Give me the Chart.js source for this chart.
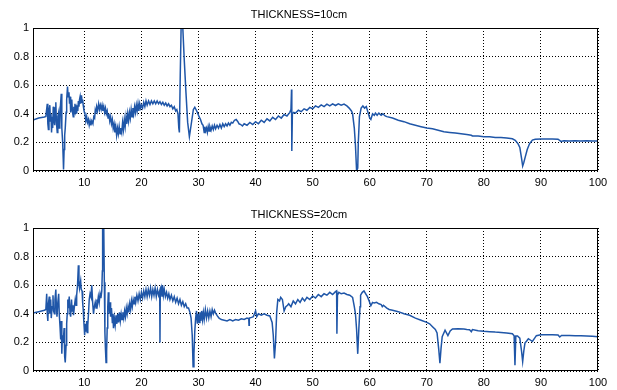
<!DOCTYPE html>
<html>
<head>
<meta charset="utf-8">
<script src="https://cdn.jsdelivr.net/npm/chart.js@4.4.0/dist/chart.umd.min.js"></script>
<style>
  body { margin: 0; background: #fff; }
  #wrap { position: relative; width: 617px; height: 390px; }
  canvas { position: absolute; left: 0; }
</style>
</head>
<body>
<div id="wrap">
  <canvas id="plotTop" width="617" height="195" style="top:0"></canvas>
  <canvas id="plotBottom" width="617" height="195" style="top:195px"></canvas>
</div>
<script>
const xTicks = [10, 20, 30, 40, 50, 60, 70, 80, 90, 100];
const yTicks = [0, 0.2, 0.4, 0.6, 0.8, 1];
const yTickLabels = ['0', '0.2', '0.4', '0.6', '0.8', '1'];
const titles = ['THICKNESS=10cm', 'THICKNESS=20cm'];

// [x, value]
const thick10 = [
  [1,0.357],[2,0.37],[3,0.378],[3.25,0.381],[3.5,0.47],[3.6,0.33],[3.7,0.29],[3.8,0.42],[3.95,0.46],[4.05,0.35],
  [4.15,0.40],[4.25,0.27],[4.35,0.38],[4.45,0.30],[4.55,0.45],[4.65,0.36],[4.8,0.32],[4.9,0.44],[5.0,0.48],[5.1,0.34],
  [5.25,0.27],[5.35,0.38],[5.5,0.41],[5.6,0.30],[5.7,0.32],[5.8,0.45],[5.95,0.54],[6.05,0.30],[6.2,0.20],[6.3,0.08],
  [6.35,0.01],[6.45,0.15],[6.55,0.25],[6.65,0.30],[6.8,0.41],[6.9,0.50],[7.05,0.59],[7.15,0.52],[7.3,0.55],[7.4,0.47],
  [7.5,0.52],[7.6,0.41],[7.7,0.46],[7.8,0.50],[7.9,0.42],[8.05,0.38],[8.15,0.45],[8.25,0.40],[8.35,0.47],[8.45,0.42],
  [8.55,0.44],[8.65,0.40],[8.75,0.46],[8.85,0.42],[8.95,0.49],[9.05,0.45],[9.15,0.50],[9.25,0.52],[9.35,0.47],[9.5,0.53],
  [9.6,0.48],[9.7,0.50],[9.8,0.46],[9.9,0.43],[10.0,0.41],[10.1,0.40],[10.25,0.35],[10.4,0.38],[10.55,0.34],[10.7,0.36],
  [10.85,0.32],[11.0,0.35],[11.15,0.32],[11.3,0.35],[11.5,0.33],[11.65,0.38],[11.8,0.37],[11.9,0.42],[12.0,0.40],[12.15,0.45],
  [12.3,0.42],[12.5,0.47],[12.65,0.43],[12.8,0.46],[12.95,0.43],[13.1,0.46],[13.25,0.42],[13.4,0.45],[13.55,0.41],[13.7,0.44],
  [13.85,0.40],[14.0,0.42],[14.15,0.37],[14.3,0.40],[14.45,0.35],[14.6,0.38],[14.75,0.33],[14.9,0.36],[15.05,0.30],[15.2,0.33],
  [15.35,0.27],[15.5,0.31],[15.65,0.25],[15.8,0.30],[15.95,0.26],[16.1,0.31],[16.25,0.26],[16.4,0.30],[16.55,0.27],[16.7,0.34],
  [16.85,0.29],[17.0,0.36],[17.15,0.31],[17.3,0.38],[17.45,0.33],[17.6,0.40],[17.75,0.35],[17.9,0.41],[18.05,0.37],[18.2,0.43],
  [18.35,0.38],[18.5,0.44],[18.65,0.40],[18.8,0.45],[18.95,0.41],[19.1,0.46],[19.25,0.42],[19.4,0.47],[19.55,0.42],[19.7,0.47],
  [19.85,0.44],[20.0,0.46],[20.2,0.44],[20.4,0.48],[20.6,0.45],[20.8,0.49],[21.0,0.46],[21.25,0.49],[21.5,0.465],[21.75,0.49],
  [22.0,0.47],[22.25,0.49],[22.5,0.47],[22.75,0.49],[23.0,0.47],[23.25,0.485],[23.5,0.465],[23.75,0.48],[24.0,0.46],[24.25,0.475],
  [24.5,0.455],[24.75,0.47],[25.0,0.45],[25.25,0.46],[25.5,0.435],[25.75,0.45],[26.0,0.42],[26.2,0.43],[26.4,0.40],[26.55,0.30],
  [26.65,0.27],[26.8,0.67],[26.95,1.0],[27.25,1.0],[27.5,0.78],[27.8,0.55],[28.1,0.34],[28.4,0.24],[28.7,0.32],[29.1,0.43],
  [29.35,0.446],[29.55,0.43],[29.8,0.41],[30.1,0.38],[30.35,0.36],[30.6,0.33],[30.8,0.32],[31.0,0.27],[31.1,0.31],[31.25,0.28],
  [31.4,0.30],[31.55,0.27],[31.7,0.31],[31.85,0.28],[32.0,0.31],[32.2,0.285],[32.4,0.315],[32.6,0.29],[32.8,0.32],[33.0,0.295],
  [33.25,0.32],[33.5,0.30],[33.75,0.325],[34.0,0.30],[34.25,0.33],[34.5,0.31],[34.75,0.33],[35.0,0.315],[35.25,0.335],[35.5,0.32],
  [35.75,0.34],[36.0,0.335],[36.3,0.355],[36.6,0.36],[36.9,0.345],[37.1,0.33],[37.4,0.325],[37.7,0.315],[38.0,0.33],[38.5,0.32],
  [39.0,0.34],[39.5,0.325],[40.0,0.345],[40.5,0.33],[41.0,0.355],[41.5,0.34],[42.0,0.365],[42.5,0.35],[43.0,0.375],[43.5,0.36],
  [44.0,0.385],[44.5,0.37],[45.0,0.395],[45.5,0.385],[46.0,0.41],[46.2,0.43],[46.3,0.57],[46.35,0.14],[46.45,0.40],[46.7,0.41],
  [47.0,0.405],[47.5,0.425],[48.0,0.415],[48.5,0.435],[49.0,0.425],[49.5,0.445],[50.0,0.435],[50.5,0.455],[51.0,0.445],[51.5,0.462],
  [52.0,0.45],[52.5,0.467],[53.0,0.455],[53.5,0.47],[54.0,0.458],[54.5,0.47],[55.0,0.46],[55.5,0.468],[56.0,0.455],[56.4,0.44],
  [56.8,0.42],[57.0,0.40],[57.3,0.30],[57.5,0.18],[57.7,0.0],[57.9,0.02],[58.0,0.20],[58.2,0.38],[58.5,0.44],[58.8,0.455],
  [59.1,0.44],[59.4,0.45],[59.7,0.41],[60.0,0.37],[60.2,0.36],[60.5,0.40],[60.8,0.39],[61.0,0.405],[61.3,0.39],[61.6,0.405],
  [62.0,0.39],[62.3,0.40],[62.7,0.385],[63.0,0.38],[64.0,0.37],[65.0,0.355],[66.0,0.345],[67.0,0.33],[68.0,0.32],[69.0,0.31],
  [70.0,0.30],[71.0,0.295],[72.0,0.285],[73.0,0.275],[74.0,0.27],[75.0,0.265],[76.0,0.26],[77.0,0.255],[77.8,0.25],[78.0,0.245],
  [79.0,0.245],[80.0,0.24],[81.0,0.24],[82.0,0.235],[83.0,0.235],[84.0,0.23],[85.0,0.225],[85.5,0.215],[86.0,0.19],[86.3,0.165],
  [86.6,0.09],[86.8,0.035],[87.0,0.06],[87.2,0.09],[87.6,0.15],[88.0,0.19],[88.5,0.216],[89.0,0.222],[90.0,0.223],[91.0,0.223],
  [92.0,0.224],[93.0,0.222],[93.5,0.207],[94.0,0.212],[95.0,0.21],[96.0,0.212],[97.0,0.21],[98.0,0.212],[99.0,0.21],[100,0.21]
];

// [x, value]
const thick20 = [
  [1,0.405],[2,0.415],[3,0.425],[3.25,0.43],[3.4,0.54],[3.5,0.40],[3.6,0.35],[3.7,0.47],[3.85,0.52],[3.95,0.40],
  [4.1,0.50],[4.2,0.37],[4.35,0.45],[4.5,0.53],[4.6,0.42],[4.75,0.40],[4.85,0.50],[5.0,0.57],[5.1,0.45],[5.2,0.38],
  [5.35,0.48],[5.5,0.54],[5.6,0.40],[5.75,0.30],[5.85,0.22],[5.95,0.35],[6.05,0.12],[6.15,0.25],[6.3,0.20],[6.45,0.30],
  [6.55,0.10],[6.65,0.06],[6.8,0.18],[6.9,0.33],[7.0,0.40],[7.1,0.50],[7.2,0.44],[7.35,0.52],[7.5,0.40],[7.6,0.38],
  [7.75,0.50],[7.85,0.42],[8.0,0.46],[8.1,0.39],[8.25,0.45],[8.4,0.50],[8.55,0.46],[8.65,0.53],[8.8,0.60],[8.95,0.74],
  [9.05,0.62],[9.15,0.58],[9.35,0.63],[9.45,0.57],[9.6,0.56],[9.7,0.48],[9.8,0.43],[9.9,0.35],[10.05,0.25],[10.15,0.33],
  [10.3,0.28],[10.4,0.35],[10.5,0.27],[10.6,0.32],[10.75,0.42],[10.85,0.50],[11.0,0.54],[11.15,0.52],[11.3,0.60],[11.45,0.48],
  [11.6,0.40],[11.75,0.45],[11.9,0.48],[12.05,0.44],[12.2,0.50],[12.3,0.47],[12.45,0.52],[12.6,0.48],[12.75,0.54],[12.9,0.51],
  [13.05,0.56],[13.15,0.70],[13.2,1.0],[13.4,1.0],[13.5,0.62],[13.6,0.27],[13.7,0.15],[13.8,0.06],[13.9,0.14],[14.0,0.30],
  [14.1,0.45],[14.2,0.55],[14.3,0.47],[14.4,0.40],[14.5,0.48],[14.6,0.38],[14.75,0.44],[14.9,0.34],[15.0,0.40],[15.1,0.30],
  [15.25,0.37],[15.4,0.32],[15.55,0.39],[15.7,0.33],[15.85,0.40],[16.0,0.34],[16.15,0.41],[16.3,0.35],[16.45,0.40],[16.6,0.36],
  [16.75,0.41],[16.9,0.37],[17.05,0.42],[17.2,0.38],[17.35,0.44],[17.5,0.40],[17.65,0.45],[17.8,0.41],[17.95,0.47],[18.1,0.43],
  [18.25,0.49],[18.4,0.45],[18.55,0.50],[18.7,0.47],[18.85,0.52],[19.0,0.48],[19.2,0.53],[19.4,0.49],[19.6,0.54],[19.8,0.50],
  [20.0,0.55],[20.2,0.51],[20.4,0.56],[20.6,0.52],[20.8,0.57],[21.0,0.52],[21.2,0.57],[21.4,0.53],[21.6,0.58],[21.8,0.52],
  [22.0,0.57],[22.2,0.53],[22.4,0.58],[22.6,0.52],[22.8,0.57],[23.0,0.53],[23.2,0.56],[23.25,0.20],[23.3,0.55],[23.45,0.58],
  [23.6,0.52],[23.7,0.60],[23.85,0.53],[24.0,0.57],[24.2,0.52],[24.4,0.55],[24.6,0.51],[24.8,0.54],[25.0,0.50],[25.25,0.53],
  [25.5,0.49],[25.75,0.52],[26.0,0.48],[26.25,0.51],[26.5,0.47],[26.75,0.50],[27.0,0.46],[27.25,0.485],[27.5,0.45],[27.75,0.47],
  [28.0,0.44],[28.25,0.44],[28.5,0.41],[28.7,0.37],[28.9,0.25],[29.05,0.03],[29.2,0.12],[29.35,0.28],[29.5,0.37],[29.65,0.42],
  [29.8,0.33],[29.95,0.40],[30.1,0.34],[30.25,0.41],[30.4,0.35],[30.55,0.42],[30.7,0.36],[30.85,0.41],[31.0,0.36],[31.2,0.43],
  [31.4,0.37],[31.6,0.42],[31.8,0.37],[32.0,0.42],[32.2,0.38],[32.4,0.43],[32.6,0.40],[32.8,0.425],[33.0,0.405],[33.3,0.385],
  [33.6,0.37],[34.0,0.36],[34.5,0.355],[35.0,0.35],[35.5,0.36],[36.0,0.35],[36.5,0.36],[37.0,0.355],[37.5,0.365],[38.0,0.36],
  [38.5,0.37],[38.8,0.365],[38.85,0.32],[38.9,0.37],[39.3,0.375],[39.6,0.38],[40.0,0.42],[40.2,0.38],[40.5,0.40],[41.0,0.39],
  [41.5,0.40],[42.0,0.39],[42.5,0.385],[42.9,0.34],[43.1,0.25],[43.3,0.087],[43.5,0.20],[43.7,0.41],[43.9,0.50],[44.2,0.49],
  [44.4,0.515],[44.7,0.50],[45.0,0.42],[45.3,0.45],[45.6,0.46],[45.8,0.47],[46.2,0.45],[46.6,0.49],[47.0,0.47],[47.4,0.50],
  [47.8,0.48],[48.2,0.51],[48.6,0.49],[49.0,0.515],[49.5,0.50],[50.0,0.525],[50.5,0.51],[51.0,0.535],[51.5,0.52],[52.0,0.54],
  [52.5,0.53],[53.0,0.55],[53.5,0.535],[54.0,0.555],[54.2,0.56],[54.25,0.26],[54.35,0.53],[54.6,0.55],[55.0,0.54],[55.5,0.545],
  [56.0,0.535],[56.5,0.53],[57.0,0.515],[57.3,0.45],[57.5,0.40],[57.7,0.29],[57.9,0.12],[58.1,0.30],[58.3,0.45],[58.4,0.53],
  [58.7,0.55],[59.0,0.56],[59.3,0.54],[59.6,0.52],[59.9,0.49],[60.2,0.457],[60.5,0.48],[60.8,0.475],[61.2,0.48],[61.6,0.47],
  [62.0,0.465],[62.2,0.45],[62.4,0.46],[63.0,0.44],[63.4,0.43],[64.0,0.425],[65.0,0.415],[66.0,0.40],[67.0,0.39],[68.0,0.37],
  [69.0,0.355],[70.0,0.34],[70.5,0.33],[71.0,0.31],[71.5,0.29],[71.8,0.266],[72.1,0.15],[72.3,0.054],[72.5,0.16],[72.7,0.24],
  [73.2,0.285],[73.7,0.247],[74.1,0.28],[74.5,0.294],[75.5,0.296],[76.5,0.294],[77.0,0.29],[77.5,0.288],[77.8,0.275],[78.0,0.29],
  [79.0,0.282],[80.0,0.278],[81.0,0.275],[82.0,0.272],[83.0,0.27],[84.0,0.266],[85.0,0.26],[85.3,0.247],[85.45,0.04],[85.6,0.245],
  [85.9,0.245],[86.3,0.23],[86.6,0.14],[86.8,0.066],[87.0,0.14],[87.2,0.195],[87.5,0.21],[87.8,0.226],[88.2,0.215],[88.5,0.207],
  [88.9,0.23],[89.2,0.247],[90.0,0.254],[91.0,0.253],[92.0,0.254],[93.0,0.252],[93.3,0.238],[93.6,0.248],[94.5,0.248],[95.0,0.249],
  [96.0,0.247],[97.0,0.246],[98.0,0.245],[99.0,0.243],[100,0.24]
];

const fontFamily = '"Liberation Sans", Arial, sans-serif';

// box around the plot area, like the original axes frame
const frameBox = {
  id: 'frameBox',
  afterDatasetsDraw(chart) {
    const { ctx, chartArea: a } = chart;
    ctx.save();
    ctx.strokeStyle = '#000';
    ctx.lineWidth = 1;
    ctx.strokeRect(Math.round(a.left) + 0.5, Math.round(a.top) + 0.5,
      Math.round(a.right - a.left) - 1, Math.round(a.bottom - a.top) - 1);
    ctx.restore();
  }
};

function makePlot(id, points, title, padTop, xHeight) {
  const ctx = document.getElementById(id).getContext('2d');
  return new Chart(ctx, {
    type: 'line',
    data: {
      datasets: [{
        data: points.map(p => ({ x: p[0], y: p[1] })),
        borderColor: '#1f56a8',
        borderWidth: 1.5,
        pointRadius: 0,
        tension: 0,
        fill: false
      }]
    },
    options: {
      responsive: false,
      animation: false,
      layout: { padding: { left: 0, right: 19, top: 0, bottom: 0 } },
      plugins: {
        legend: { display: false },
        tooltip: { enabled: false },
        title: {
          display: true,
          text: title,
          color: '#000',
          font: { family: fontFamily, size: 11, weight: 'normal' },
          padding: { top: padTop, bottom: 6.8 }
        }
      },
      scales: {
        x: {
          type: 'linear',
          min: 1, max: 100,
          afterBuildTicks: s => { s.ticks = xTicks.map(v => ({ value: v })); },
          afterFit: s => { s.height = xHeight; },
          grid: { color: '#000', lineWidth: 1, drawTicks: false },
          border: { display: false, dash: [1, 2] },
          ticks: { padding: 5, color: '#000', maxRotation: 0, autoSkip: false,
                   font: { family: fontFamily, size: 11 } }
        },
        y: {
          min: 0, max: 1,
          afterBuildTicks: s => { s.ticks = yTicks.map(v => ({ value: v })); },
          afterFit: s => { s.width = 33; },
          grid: { color: '#000', lineWidth: 1, drawTicks: false },
          border: { display: false, dash: [1, 2] },
          ticks: { padding: 4, color: '#000', font: { family: fontFamily, size: 11 },
                   callback: (v, i) => yTickLabels[i] }
        }
      }
    },
    plugins: [frameBox]
  });
}

makePlot('plotTop', thick10, titles[0], 8, 24);
makePlot('plotBottom', thick20, titles[1], 13, 19);
</script>
</body>
</html>
